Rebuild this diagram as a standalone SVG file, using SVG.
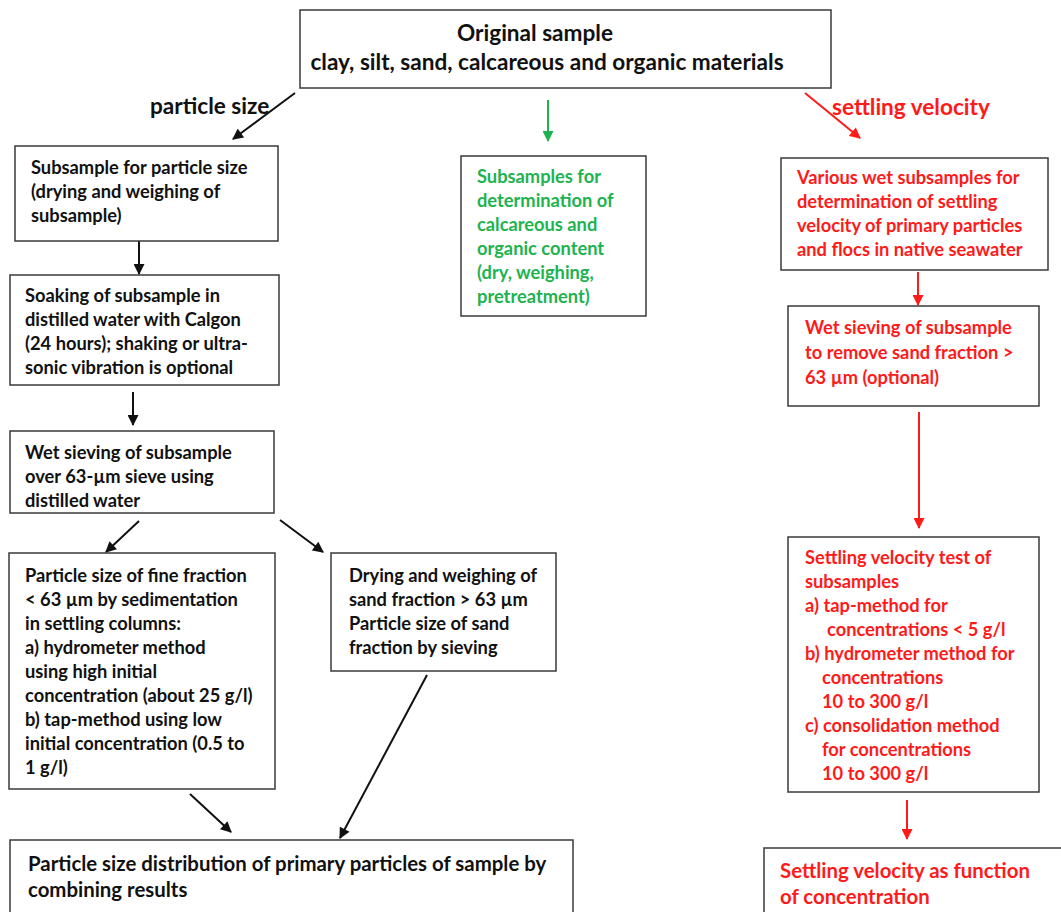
<svg xmlns="http://www.w3.org/2000/svg" width="1061" height="912" viewBox="0 0 1061 912">
<style>
.box{fill:#fff;stroke:#3a3a3a;stroke-width:1.5}
text{font-family:Lato,"Open Sans","Liberation Sans",sans-serif;font-weight:bold;font-size:18.3px;fill:#111}
.big{font-size:22.6px}
.mid{font-size:20.4px}
.red{fill:#ff1a1a}
.grn{fill:#1db34f}
.k{stroke:#111;stroke-width:2;fill:none}
.r{stroke:#ff1a1a;stroke-width:2;fill:none}
.g{stroke:#1db34f;stroke-width:2;fill:none}
</style>
<defs>
<marker id="ak" viewBox="0 0 10 10" refX="9" refY="5" markerWidth="12" markerHeight="11" markerUnits="userSpaceOnUse" orient="auto"><path d="M0,0L10,5L0,10z" fill="#111"/></marker>
<marker id="ar" viewBox="0 0 10 10" refX="9" refY="5" markerWidth="12" markerHeight="11" markerUnits="userSpaceOnUse" orient="auto"><path d="M0,0L10,5L0,10z" fill="#ff1a1a"/></marker>
<marker id="ag" viewBox="0 0 10 10" refX="9" refY="5" markerWidth="12" markerHeight="11" markerUnits="userSpaceOnUse" orient="auto"><path d="M0,0L10,5L0,10z" fill="#1db34f"/></marker>
</defs>
<rect width="1061" height="912" fill="#fff"/>
<g id="connectors">
<line class="k" x1="295" y1="93" x2="233" y2="139" marker-end="url(#ak)"/>
<line class="k" x1="139" y1="241" x2="139" y2="274" marker-end="url(#ak)"/>
<line class="k" x1="133" y1="392" x2="133" y2="425" marker-end="url(#ak)"/>
<line class="k" x1="139" y1="521" x2="106" y2="552" marker-end="url(#ak)"/>
<line class="k" x1="280" y1="520" x2="323" y2="552" marker-end="url(#ak)"/>
<line class="k" x1="190" y1="794" x2="231" y2="832" marker-end="url(#ak)"/>
<line class="k" x1="427" y1="675" x2="340" y2="838" marker-end="url(#ak)"/>
<line class="g" x1="548" y1="100" x2="548" y2="141" marker-end="url(#ag)"/>
<line class="r" x1="805" y1="93" x2="860" y2="138" marker-end="url(#ar)"/>
<line class="r" x1="918" y1="272" x2="918" y2="305" marker-end="url(#ar)"/>
<line class="r" x1="919" y1="412" x2="919" y2="528" marker-end="url(#ar)"/>
<line class="r" x1="907" y1="800" x2="907" y2="839" marker-end="url(#ar)"/>
</g>
<g id="labels">
<text class="big" x="150" y="114">particle size</text>
<text class="big red" x="832" y="115">settling velocity</text>
</g>
<g id="original">
<rect class="box" x="300" y="10" width="531" height="78"/>
<text class="big" x="535" y="41" text-anchor="middle">Original sample</text>
<text class="big" x="547" y="70" text-anchor="middle">clay, silt, sand, calcareous and organic materials</text>
</g>
<g id="subsample">
<rect class="box" x="15" y="146" width="263" height="95"/>
<text x="31" y="174">Subsample for particle size</text>
<text x="31" y="198">(drying and weighing of</text>
<text x="31" y="222">subsample)</text>
</g>
<g id="soaking">
<rect class="box" x="10" y="275" width="269" height="110"/>
<text x="25" y="302">Soaking of subsample in</text>
<text x="25" y="326">distilled water with Calgon</text>
<text x="25" y="350">(24 hours); shaking or ultra-</text>
<text x="25" y="374">sonic vibration is optional</text>
</g>
<g id="wetsieve">
<rect class="box" x="10" y="431" width="264" height="82"/>
<text x="25" y="459">Wet sieving of subsample</text>
<text x="25" y="483">over 63-µm sieve using</text>
<text x="25" y="507">distilled water</text>
</g>
<g id="fine">
<rect class="box" x="9" y="553" width="266" height="236"/>
<text x="25" y="582">Particle size of fine fraction</text>
<text x="25" y="606">&lt; 63 µm by sedimentation</text>
<text x="25" y="630">in settling columns:</text>
<text x="25" y="654">a) hydrometer method</text>
<text x="25" y="678">using high initial</text>
<text x="25" y="702">concentration (about 25 g/l)</text>
<text x="25" y="726">b) tap-method using low</text>
<text x="25" y="750">initial concentration (0.5 to</text>
<text x="25" y="774">1 g/l)</text>
</g>
<g id="sand">
<rect class="box" x="331" y="553" width="225" height="118"/>
<text x="349" y="582">Drying and weighing of</text>
<text x="349" y="606">sand fraction &gt; 63 µm</text>
<text x="349" y="630">Particle size of sand</text>
<text x="349" y="654">fraction by sieving</text>
</g>
<g id="distribution">
<rect class="box" x="10" y="840" width="563" height="80"/>
<text class="mid" x="28" y="871">Particle size distribution of primary particles of sample by</text>
<text class="mid" x="28" y="897">combining results</text>
</g>
<g id="calcareous">
<rect class="box" x="461" y="156" width="185" height="160"/>
<text class="grn" x="477" y="183">Subsamples for</text>
<text class="grn" x="477" y="207">determination of</text>
<text class="grn" x="477" y="231">calcareous and</text>
<text class="grn" x="477" y="255">organic content</text>
<text class="grn" x="477" y="279">(dry, weighing,</text>
<text class="grn" x="477" y="303">pretreatment)</text>
</g>
<g id="various">
<rect class="box" x="781" y="158" width="267" height="112"/>
<text class="red" x="797" y="184">Various wet subsamples for</text>
<text class="red" x="797" y="208">determination of settling</text>
<text class="red" x="797" y="232">velocity of primary particles</text>
<text class="red" x="797" y="256">and flocs in native seawater</text>
</g>
<g id="wetsieve2">
<rect class="box" x="788" y="306" width="251" height="100"/>
<text class="red" x="805" y="334">Wet sieving of subsample</text>
<text class="red" x="805" y="359">to remove sand fraction &gt;</text>
<text class="red" x="805" y="384">63 µm (optional)</text>
</g>
<g id="settlingtest">
<rect class="box" x="788" y="537" width="251" height="255"/>
<text class="red" x="805" y="564">Settling velocity test of</text>
<text class="red" x="805" y="588">subsamples</text>
<text class="red" x="805" y="612">a) tap-method for</text>
<text class="red" x="827" y="636">concentrations &lt; 5 g/l</text>
<text class="red" x="805" y="660">b) hydrometer method for</text>
<text class="red" x="822" y="684">concentrations</text>
<text class="red" x="822" y="708">10 to 300 g/l</text>
<text class="red" x="805" y="732">c) consolidation method</text>
<text class="red" x="822" y="756">for concentrations</text>
<text class="red" x="822" y="780">10 to 300 g/l</text>
</g>
<g id="result">
<rect class="box" x="764" y="848" width="310" height="80"/>
<text class="red mid" x="780" y="878">Settling velocity as function</text>
<text class="red mid" x="780" y="904">of concentration</text>
</g>
</svg>
